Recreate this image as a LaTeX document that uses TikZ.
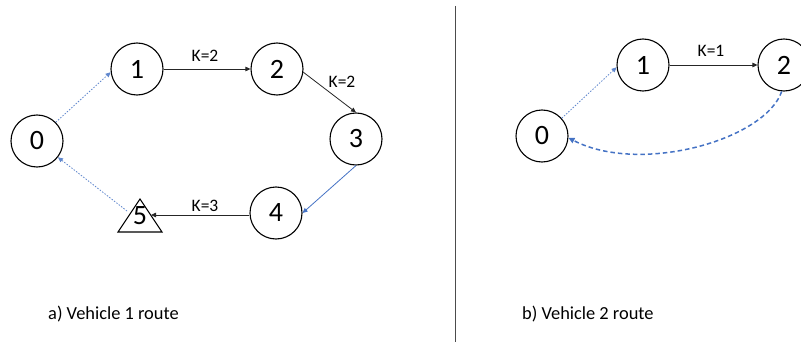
\documentclass[tikz,border=0pt]{standalone}
\usepackage{fontspec}
\setmainfont{Carlito}
\usetikzlibrary{arrows.meta}
\definecolor{routeblue}{HTML}{4472C4}
\begin{document}
\begin{tikzpicture}[x=1pt,y=-1pt,
  stop/.style={circle,draw=black,line width=1.1pt,minimum size=52pt,inner sep=0pt,font=\fontsize{28}{28}\selectfont},
  digit/.style={inner sep=0pt,font=\fontsize{28}{28}\selectfont},
  klabel/.style={inner sep=0pt,font=\fontsize{17.5}{17.5}\selectfont},
  caption/.style={inner sep=0pt,anchor=base west,font=\fontsize{18.4}{18.4}\selectfont},
  load/.style={draw=black!85,line width=0.8pt,-{Triangle[length=5pt,width=4.5pt]}},
  empty/.style={draw=routeblue,line width=0.8pt,-{Triangle[length=5pt,width=4.5pt]}},
  deadhead/.style={draw=routeblue!85,line width=0.8pt,dash pattern=on 1.5pt off 1.5pt,-{Triangle[length=5pt,width=4.5pt]}},
  return/.style={draw=routeblue,line width=1.5pt,dash pattern=on 4.5pt off 3pt,-{Triangle[length=6pt,width=5.5pt]}}]
\useasboundingbox (0,0) rectangle (801,345);

% ---- a) vehicle 1 ----
\node[stop] (a0) at (37,141) {0};
\node[stop] (a1) at (137,69) {1};
\node[stop] (a2) at (277,69) {2};
\node[stop] (a3) at (356,139) {3};
\node[stop] (a4) at (276,213) {4};
\draw[line width=1.1pt,line join=miter] (140,199) -- (162,232) -- (118,232) -- cycle;
\node[digit] (a5) at (140,216) {5};
\coordinate (a5in) at (151,215);
\coordinate (a5out) at (127,211);

\draw[deadhead] (a0.45) -- (a1.187);
\draw[load] (a1) -- (a2);
\draw[load] (a2.-7) -- (a3.north);
\draw[empty] (a3.south) -- (a4.east);
\draw[load] (a4.west |- a5in) -- (a5in);
\draw[deadhead] (a5out) -- (a0);

\node[klabel] (k12) at (205,56) {K=2};
\node[klabel] (k23) at (342,82) {K=2};
\node[klabel] (k45) at (205,206) {K=3};

\node[caption] (capa) at (48,319) {a) Vehicle 1 route};

% ---- divider ----
\coordinate (divtop) at (455.5,6);
\coordinate (divbot) at (455.5,342);
\draw[line width=1pt,black!70] (divtop) -- (divbot);

% ---- b) vehicle 2 ----
\node[stop] (b0) at (542,136) {0};
\node[stop] (b1) at (643,65) {1};
\node[stop] (b2) at (784,65) {2};

\draw[deadhead] (b0.42) -- (b1.185);
\draw[load] (b1) -- (b2);
\draw[return] (b2.265) .. controls (765,140) and (640,175) .. (b0.-4);

\node[klabel] (k12b) at (711,51) {K=1};

\node[caption] (capb) at (522,319) {b) Vehicle 2 route};
\end{tikzpicture}
\end{document}
